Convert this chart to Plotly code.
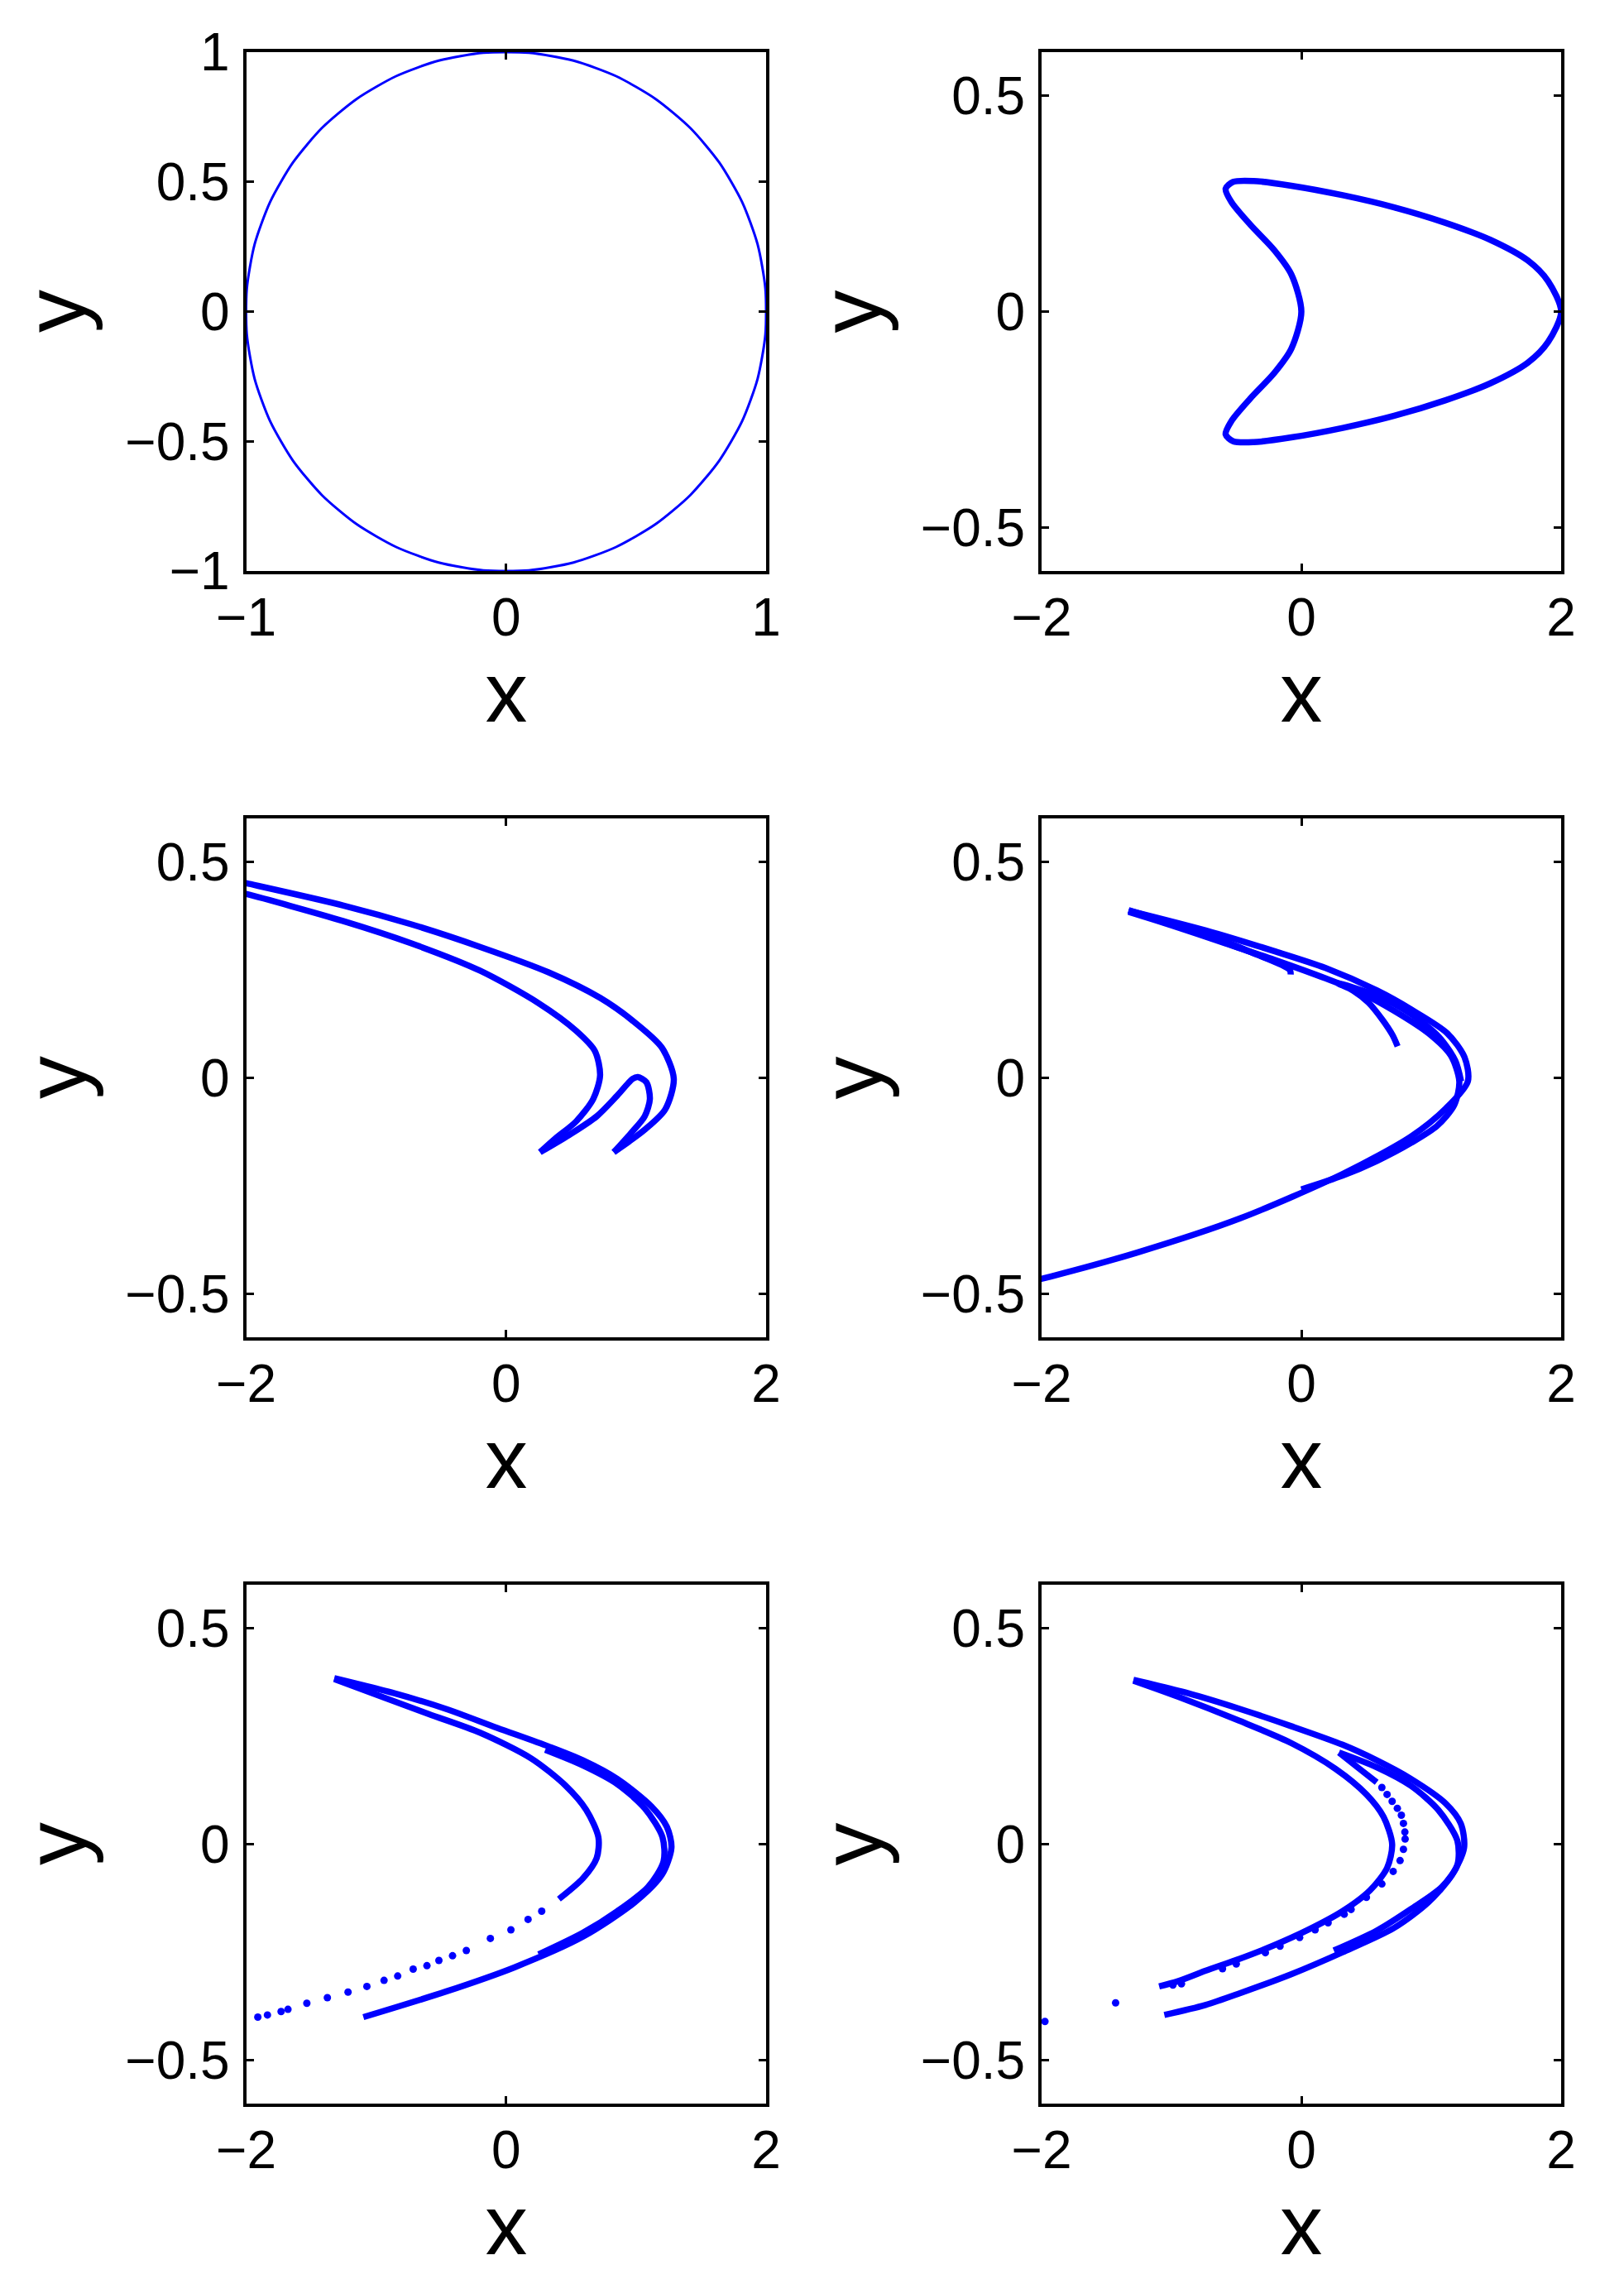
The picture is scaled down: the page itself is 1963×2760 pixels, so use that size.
import plotly.graph_objects as go
from plotly.subplots import make_subplots

BLUE = '#0000ff'

# ---- values, (x, y) pairs ----

# panel 1 : unit circle
p1_circle = [(1.0, 0.0), (0.985, 0.174), (0.940, 0.342), (0.866, 0.5), (0.766, 0.643), (0.643, 0.766),
             (0.5, 0.866), (0.342, 0.940), (0.174, 0.985), (0.0, 1.0), (-0.174, 0.985), (-0.342, 0.940),
             (-0.5, 0.866), (-0.643, 0.766), (-0.766, 0.643), (-0.866, 0.5), (-0.940, 0.342),
             (-0.985, 0.174), (-1.0, 0.0), (-0.985, -0.174), (-0.940, -0.342), (-0.866, -0.5),
             (-0.766, -0.643), (-0.643, -0.766), (-0.5, -0.866), (-0.342, -0.940), (-0.174, -0.985),
             (0.0, -1.0), (0.174, -0.985), (0.342, -0.940), (0.5, -0.866), (0.643, -0.766),
             (0.766, -0.643), (0.866, -0.5), (0.940, -0.342), (0.985, -0.174), (1.0, 0.0)]

# panel 2 : closed curve
p2_curve = [(2.0, 0.0), (1.90, 0.07), (1.744, 0.118), (1.454, 0.166), (1.111, 0.205), (0.715, 0.241),
            (0.319, 0.269), (-0.077, 0.291), (-0.367, 0.302), (-0.525, 0.300), (-0.583, 0.284),
            (-0.538, 0.253), (-0.393, 0.201), (-0.208, 0.142), (-0.077, 0.086), (0.0, 0.0),
            (-0.077, -0.086), (-0.208, -0.142), (-0.393, -0.201), (-0.538, -0.253), (-0.583, -0.284),
            (-0.525, -0.300), (-0.367, -0.302), (-0.077, -0.291), (0.319, -0.269), (0.715, -0.241),
            (1.111, -0.205), (1.454, -0.166), (1.744, -0.118), (1.90, -0.07), (2.0, 0.0)]

# panel 3
p3_outer = [(-2.1, 0.457), (-1.995, 0.450), (-1.256, 0.399), (-0.728, 0.355), (-0.201, 0.303), (0.327, 0.244),
            (0.723, 0.185), (0.987, 0.129), (1.198, 0.070), (1.290, -0.002), (1.224, -0.073),
            (1.066, -0.120), (0.828, -0.172)]
p3_loop = [(0.828, -0.172), (0.960, -0.128), (1.066, -0.089), (1.106, -0.049), (1.079, -0.010),
           (1.013, 0.002), (0.974, -0.002), (0.855, -0.041), (0.697, -0.089), (0.485, -0.132),
           (0.261, -0.172)]
p3_inner = [(0.261, -0.172), (0.380, -0.140), (0.538, -0.101), (0.670, -0.049), (0.723, 0.006),
            (0.683, 0.062), (0.538, 0.109), (0.248, 0.173), (-0.201, 0.248), (-0.728, 0.311),
            (-1.256, 0.363), (-1.995, 0.425), (-2.1, 0.432)]

# panel 4
p4_outer = [(-2.1, -0.472), (-1.989, -0.464), (-1.264, -0.404), (-0.472, -0.325), (0.319, -0.222),
            (0.847, -0.135), (1.111, -0.071), (1.282, -0.008), (1.256, 0.048), (1.124, 0.103),
            (0.847, 0.158), (0.583, 0.202), (0.187, 0.254), (-0.208, 0.293), (-0.736, 0.341),
            (-1.330, 0.387)]
p4_inner = [(-1.330, 0.384), (-1.000, 0.353), (-0.604, 0.313), (-0.208, 0.273), (0.187, 0.230),
            (0.451, 0.198), (0.715, 0.155), (0.979, 0.103), (1.150, 0.052), (1.216, -0.008),
            (1.177, -0.063), (1.045, -0.111), (0.847, -0.150), (0.583, -0.192), (0.319, -0.226),
            (0.0, -0.258)]
p4_hook = [(-1.330, 0.388), (-1.000, 0.357), (-0.604, 0.317), (-0.340, 0.285), (-0.090, 0.250),
           (-0.082, 0.239)]
p4_wedge = [(-1.330, 0.386), (-0.900, 0.345), (-0.500, 0.303), (-0.250, 0.275), (-0.100, 0.258)]
p4_tail = [(1.230, -0.008), (1.185, 0.040), (1.058, 0.095), (0.847, 0.147), (0.583, 0.190),
           (0.280, 0.219), (0.398, 0.202), (0.517, 0.174), (0.623, 0.135), (0.702, 0.099),
           (0.741, 0.073)]

# panel 5
p5_outer = [(-1.098, -0.400), (-0.464, -0.341), (0.063, -0.285), (0.591, -0.214), (0.987, -0.135),
            (1.198, -0.071), (1.272, -0.008), (1.237, 0.040), (1.119, 0.087), (0.855, 0.151),
            (0.591, 0.194), (0.327, 0.226), (-0.069, 0.269), (-0.464, 0.313), (-0.860, 0.349),
            (-1.322, 0.384)]
p5_band = [(0.301, 0.218), (0.591, 0.182), (0.855, 0.139), (1.066, 0.083), (1.203, 0.016),
           (1.211, -0.040), (1.092, -0.099), (0.855, -0.155), (0.591, -0.205), (0.250, -0.255)]
p5_inner = [(-1.322, 0.382), (-0.992, 0.345), (-0.596, 0.301), (-0.201, 0.258), (0.195, 0.198),
            (0.459, 0.135), (0.617, 0.079), (0.710, 0.016), (0.697, -0.032), (0.591, -0.079),
            (0.406, -0.127)]
p5_dots = [(0.274, -0.155), (0.169, -0.174), (0.037, -0.198), (-0.121, -0.218), (-0.306, -0.246),
           (-0.412, -0.258), (-0.517, -0.269), (-0.609, -0.281), (-0.715, -0.289), (-0.834, -0.305),
           (-0.939, -0.315), (-1.071, -0.329), (-1.216, -0.342), (-1.375, -0.355), (-1.533, -0.368),
           (-1.678, -0.382), (-1.731, -0.387), (-1.836, -0.395), (-1.910, -0.400)]

# panel 6
p6_outer = [(-1.055, -0.395), (-0.739, -0.372), (-0.475, -0.345), (-0.079, -0.301), (0.317, -0.250),
            (0.712, -0.194), (0.976, -0.135), (1.161, -0.071), (1.253, -0.008), (1.227, 0.048),
            (1.108, 0.095), (0.844, 0.151), (0.580, 0.194), (0.317, 0.230), (-0.079, 0.273),
            (-0.475, 0.313), (-0.871, 0.349), (-1.293, 0.380)]
p6_band = [(0.290, 0.212), (0.580, 0.178), (0.844, 0.135), (1.055, 0.079), (1.201, 0.008),
           (1.201, -0.048), (1.082, -0.099), (0.844, -0.150), (0.580, -0.200), (0.250, -0.246)]
p6_inner = [(-1.293, 0.378), (-0.950, 0.341), (-0.475, 0.285), (-0.079, 0.234), (0.264, 0.174),
            (0.501, 0.115), (0.633, 0.063), (0.699, 0.0), (0.660, -0.055), (0.528, -0.107),
            (0.317, -0.155), (0.053, -0.198), (-0.211, -0.234), (-0.475, -0.265), (-0.739, -0.293),
            (-0.950, -0.317), (-1.095, -0.329)]
p6_hook = [(0.290, 0.212), (0.449, 0.174), (0.580, 0.143)]
p6_dots = [(0.620, 0.131), (0.660, 0.115), (0.699, 0.099), (0.739, 0.083), (0.770, 0.067),
           (0.786, 0.048), (0.797, 0.028), (0.799, 0.012), (0.786, -0.012), (0.760, -0.038),
           (0.707, -0.063), (0.620, -0.092), (0.501, -0.123), (0.383, -0.151), (0.330, -0.162),
           (0.206, -0.182), (0.106, -0.198), (-0.013, -0.216), (-0.164, -0.236), (-0.277, -0.251),
           (-0.501, -0.277), (-0.607, -0.288), (-0.923, -0.323), (-0.989, -0.326),
           (-1.430, -0.367), (-1.974, -0.410)]

# axes
p1_ticks = [-1, 0, 1]
p1_ticktext = ['\u22121', '0', '1']
x_ticks = [-2, 0, 2]
x_ticktext = ['\u22122', '0', '2']
y_ticks = [-0.5, 0, 0.5]
y_ticktext = ['\u22120.5', '0', '0.5']
p1_yticks = [-1, -0.5, 0, 0.5, 1]
p1_yticktext = ['\u22121', '\u22120.5', '0', '0.5', '1']

fig = make_subplots(rows=3, cols=2)


def add_line(pts, row, col, width=7.5, smoothing=0.8):
    fig.add_trace(go.Scatter(
        x=[p[0] for p in pts], y=[p[1] for p in pts],
        mode='lines', line=dict(color=BLUE, width=width, shape='spline', smoothing=smoothing),
        showlegend=False, hoverinfo='skip'
    ), row=row, col=col)


def add_dots(pts, row, col, size=9):
    fig.add_trace(go.Scatter(
        x=[p[0] for p in pts], y=[p[1] for p in pts],
        mode='markers', marker=dict(color=BLUE, size=size, line=dict(width=0)),
        showlegend=False, hoverinfo='skip'
    ), row=row, col=col)


add_line(p1_circle, 1, 1, width=3, smoothing=1.3)
add_line(p2_curve, 1, 2)
for seg in (p3_outer, p3_loop, p3_inner):
    add_line(seg, 2, 1)
for seg in (p4_outer, p4_inner, p4_hook, p4_wedge, p4_tail):
    add_line(seg, 2, 2)
for seg in (p5_outer, p5_band, p5_inner):
    add_line(seg, 3, 1)
add_dots(p5_dots, 3, 1)
for seg in (p6_outer, p6_band, p6_inner, p6_hook):
    add_line(seg, 3, 2)
add_dots(p6_dots, 3, 2)

# page offset of 8px (body margin) taken off every position
W, H = 1955, 2752
OFF = 8
col_left = [297.5 - OFF, 1259 - OFF]
col_right = [926 - OFF, 1887 - OFF]
row_top = [63 - OFF, 989 - OFF, 1915 - OFF]
row_bot = [690 - OFF, 1616 - OFF, 2542 - OFF]

tick_font = dict(family='Liberation Sans, Arial, sans-serif', size=64, color='black')
title_font = dict(family='Liberation Sans, Arial, sans-serif', size=104, color='black')
axis_common = dict(showline=True, linecolor='black', linewidth=4, mirror='ticks',
                   ticks='inside', ticklen=9, tickwidth=3, tickcolor='black', automargin=False,
                   showgrid=False, zeroline=False, tickfont=tick_font, fixedrange=True)

annotations = []
for r in range(3):
    for c in range(2):
        idx = r * 2 + c + 1
        xa = 'xaxis' if idx == 1 else 'xaxis%d' % idx
        ya = 'yaxis' if idx == 1 else 'yaxis%d' % idx
        if idx == 1:
            xr, xt, xtt = [-1, 1], p1_ticks, p1_ticktext
            yr, yt, ytt = [-1, 1], p1_yticks, p1_yticktext
        else:
            xr, xt, xtt = [-2, 2], x_ticks, x_ticktext
            yr, yt, ytt = [-0.6, 0.6], y_ticks, y_ticktext
        fig.layout[xa].update(domain=[col_left[c] / W, col_right[c] / W], range=xr,
                              tickvals=xt, ticktext=xtt, ticklabelstandoff=-3, **axis_common)
        fig.layout[ya].update(domain=[1 - row_bot[r] / H, 1 - row_top[r] / H], range=yr,
                              tickvals=yt, ticktext=ytt, ticklabelstandoff=3, **axis_common)
        cx = (col_left[c] + col_right[c]) / 2 / W
        cy = 1 - (row_top[r] + row_bot[r]) / 2 / H
        annotations.append(dict(text='x', xref='paper', yref='paper', x=cx,
                                y=1 - (row_bot[r] + 147) / H, xanchor='center', yanchor='middle',
                                height=70, valign='middle',
                                showarrow=False, font=title_font))
        annotations.append(dict(text='y', xref='paper', yref='paper', x=(col_left[c] - 231) / W,
                                y=cy, xanchor='center', yanchor='middle', textangle=-90,
                                showarrow=False, font=title_font))

fig.update_layout(width=W, height=H, margin=dict(l=0, r=0, t=0, b=0, autoexpand=False),
                  paper_bgcolor='white', plot_bgcolor='white', annotations=annotations)

fig.write_html("out.html")
